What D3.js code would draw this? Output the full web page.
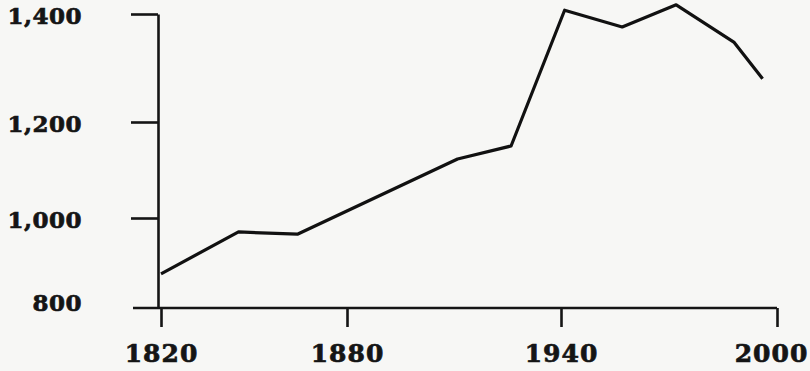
<!DOCTYPE html>
<html>
<head>
<meta charset="utf-8">
<script src="https://cdn.jsdelivr.net/npm/d3@7"></script>
<style>
  html, body { margin: 0; padding: 0; background: #f7f7f5; }
  .axis text { font-family: "DejaVu Serif", serif; font-weight: bold; fill: #151515; stroke: #151515; stroke-width: 0.7; }
  .x-axis text { font-size: 25px; letter-spacing: 1px; }
  .y-axis text { font-size: 23px; letter-spacing: 0.5px; }
  .axis line, .axis path { stroke: #151515; stroke-width: 2.6; }
</style>
</head>
<body>
<div class="line-plot"></div>
<script>
// Data
const years = [1820, 1845, 1864, 1911, 1926, 1941, 1957, 1972, 1988, 1996];
const values = [876, 969, 964, 1123, 1150, 1407, 1376, 1417, 1348, 1280];
const xTicks = [1820, 1880, 1940, 2000];
const yTicks = [800, 1000, 1200, 1400];

const W = 810, H = 371;

// the scan is a little skewed, so each scale follows the printed tick marks
const xScale = d3.scaleLinear().domain(xTicks).range([161, 347, 561, 777]);
const yScale = d3.scaleLinear().domain(yTicks).range([308, 218, 122, 14]);

const svg = d3.select(".line-plot").append("svg").attr("width", W).attr("height", H);

// X-axis
const xAxis = svg.append("g")
  .attr("class", "axis x-axis")
  .attr("transform", `translate(0, ${yScale(800)})`)
  .call(d3.axisBottom(xScale).tickValues(xTicks).tickFormat(d3.format("d"))
    .tickSizeInner(19).tickSizeOuter(0).tickPadding(17));
xAxis.select(".domain").remove();
xAxis.append("line")
  .attr("x1", xScale(1820) - 28)
  .attr("x2", xScale(2000))
  .attr("y1", 0).attr("y2", 0);
// last label sits right at the page edge, nudge it in
xAxis.selectAll(".tick text").filter(d => d === 2000).attr("dx", -6);

// Y-axis
const yAxis = svg.append("g")
  .attr("class", "axis y-axis")
  .attr("transform", `translate(158, 0)`)
  .call(d3.axisLeft(yScale).tickValues(yTicks).tickFormat(d3.format(","))
    .tickSizeInner(27).tickSizeOuter(0).tickPadding(49));
yAxis.selectAll(".tick").filter(d => d === 800).select("line").remove();
yAxis.selectAll(".tick text").attr("dy", d => d === 800 ? "0.1em" : "0.4em");

// Line
const line = d3.line()
  .x((d, i) => xScale(years[i]))
  .y(d => yScale(d));

svg.append("path")
  .datum(values)
  .attr("fill", "none")
  .attr("stroke", "#111")
  .attr("stroke-width", 3.2)
  .attr("stroke-linejoin", "round")
  .attr("d", line);
</script>
</body>
</html>
